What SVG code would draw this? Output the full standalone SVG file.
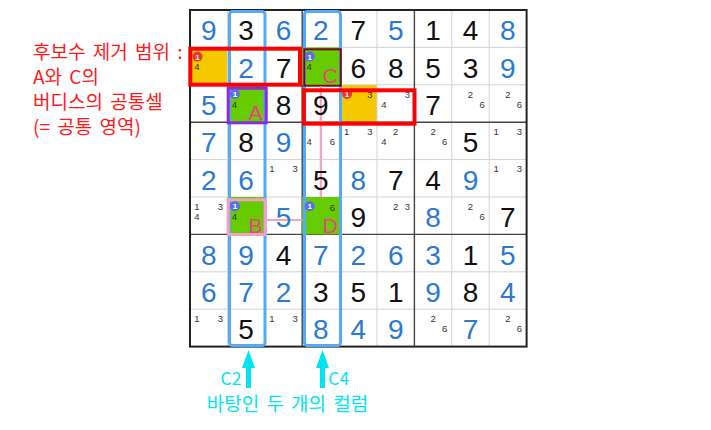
<svg xmlns="http://www.w3.org/2000/svg" width="711" height="430" viewBox="0 0 711 430">
<style>
.d{font-family:"Liberation Sans",Arial,sans-serif;font-size:28px;text-anchor:middle}
.b{fill:#2a7ad2}
.k{fill:#111}
.cd{font-family:"Liberation Sans",Arial,sans-serif;font-size:9.5px;fill:#333;text-anchor:middle}
.bt{font-family:"Liberation Sans",Arial,sans-serif;font-size:8px;font-weight:bold;fill:#fff;text-anchor:middle}
.lbl{font-family:"Liberation Sans",Arial,sans-serif;font-size:21px;fill:#ee3d8f;text-anchor:middle}
.kr{font-family:"Noto Sans CJK KR","Noto Sans",sans-serif;font-size:19px;word-spacing:3px}
.cl{font-family:"Noto Sans CJK KR","Noto Sans",sans-serif;font-size:17.5px}
.red{fill:#ff1a1a}
.cy{fill:#00e5f0}
.thin{stroke:#d2d2d2;stroke-width:1}
.box{stroke:#444;stroke-width:1.4}
.col{fill:none;stroke:#55a9f7;stroke-width:3}
.rr{fill:none;stroke:#ff0000;stroke-width:4}
.link{stroke:#f4a0c6;stroke-width:2.2;fill:none}
.yel{fill:#f6c800}
.grn{fill:#66cc00}
.rb{fill:#e53935}
.bb{fill:#5a6ee6}
</style>
<rect width="711" height="430" fill="#fff"/>
<g id="grid">
<rect x="190" y="47.4" width="37.4" height="37.4" class="yel"/>
<rect x="339.6" y="84.8" width="37.4" height="37.4" class="yel"/>
<g class="thin">
<line x1="227.4" y1="10" x2="227.4" y2="346.6"/>
<line x1="264.8" y1="10" x2="264.8" y2="346.6"/>
<line x1="339.6" y1="10" x2="339.6" y2="346.6"/>
<line x1="377" y1="10" x2="377" y2="346.6"/>
<line x1="451.8" y1="10" x2="451.8" y2="346.6"/>
<line x1="489.2" y1="10" x2="489.2" y2="346.6"/>
<line x1="190" y1="47.4" x2="526.6" y2="47.4"/>
<line x1="190" y1="84.8" x2="526.6" y2="84.8"/>
<line x1="190" y1="159.6" x2="526.6" y2="159.6"/>
<line x1="190" y1="197" x2="526.6" y2="197"/>
<line x1="190" y1="271.8" x2="526.6" y2="271.8"/>
<line x1="190" y1="309.2" x2="526.6" y2="309.2"/>
</g>
<g class="box">
<line x1="302.2" y1="10" x2="302.2" y2="346.6"/>
<line x1="414.4" y1="10" x2="414.4" y2="346.6"/>
<line x1="190" y1="122.2" x2="526.6" y2="122.2"/>
<line x1="190" y1="234.4" x2="526.6" y2="234.4"/>
</g>
<rect x="190" y="10" width="336.6" height="336.6" fill="none" stroke="#222" stroke-width="2"/>
</g>
<g id="cell-A"><rect x="227.4" y="84.8" width="37.4" height="37.4" class="grn"/></g>
<g id="cell-B"><rect x="227.4" y="197" width="37.4" height="37.4" class="grn"/></g>
<g id="cell-C"><rect x="302.2" y="47.4" width="37.4" height="37.4" class="grn"/></g>
<g id="cell-D"><rect x="302.2" y="197" width="37.4" height="37.4" class="grn"/></g>
<g id="column-C2"><rect x="229.5" y="11.5" width="35.5" height="334" rx="3" class="col"/></g>
<g id="column-C4"><rect x="304.5" y="11.5" width="36" height="334" rx="3" class="col"/></g>
<g id="cell-borders">
<rect x="228.2" y="88.2" width="38" height="34.6" fill="none" stroke="#8a2be2" stroke-width="3"/>
<rect x="228.2" y="199.8" width="37" height="34.7" fill="none" stroke="#f4a0c6" stroke-width="3"/>
<rect x="304.3" y="49.3" width="36.4" height="36.4" fill="none" stroke="#7a0a0a" stroke-width="2"/>
</g>
<g id="connectors">
<line x1="320.8" y1="86.5" x2="320.8" y2="197" class="link"/>
<line x1="266.7" y1="220" x2="302.5" y2="220" class="link"/>
<path d="M248.5,350 L255,368 L251,368 L251,388 L246,388 L246,368 L242,368 Z" class="cy"/>
<path d="M322.5,350 L329,368 L325,368 L325,388 L320,388 L320,368 L316,368 Z" class="cy"/>
</g>
<g id="digits" class="d">
<text x="208.7" y="40.2" class="b">9</text><text x="246.1" y="40.2" class="k">3</text><text x="283.5" y="40.2" class="b">6</text><text x="320.9" y="40.2" class="b">2</text><text x="358.3" y="40.2" class="k">7</text><text x="395.7" y="40.2" class="b">5</text><text x="433.1" y="40.2" class="k">1</text><text x="470.5" y="40.2" class="k">4</text><text x="507.9" y="40.2" class="b">8</text>
<text x="246.1" y="77.6" class="b">2</text><text x="283.5" y="77.6" class="k">7</text><text x="358.3" y="77.6" class="k">6</text><text x="395.7" y="77.6" class="k">8</text><text x="433.1" y="77.6" class="k">5</text><text x="470.5" y="77.6" class="k">3</text><text x="507.9" y="77.6" class="b">9</text>
<text x="208.7" y="115" class="b">5</text><text x="283.5" y="115" class="k">8</text><text x="320.9" y="115" class="k">9</text><text x="433.1" y="115" class="k">7</text>
<text x="208.7" y="152.4" class="b">7</text><text x="246.1" y="152.4" class="k">8</text><text x="283.5" y="152.4" class="b">9</text><text x="470.5" y="152.4" class="k">5</text>
<text x="208.7" y="189.8" class="b">2</text><text x="246.1" y="189.8" class="b">6</text><text x="320.9" y="189.8" class="k">5</text><text x="358.3" y="189.8" class="b">8</text><text x="395.7" y="189.8" class="k">7</text><text x="433.1" y="189.8" class="k">4</text><text x="470.5" y="189.8" class="b">9</text>
<text x="283.5" y="227.2" class="b">5</text><text x="358.3" y="227.2" class="k">9</text><text x="433.1" y="227.2" class="b">8</text><text x="507.9" y="227.2" class="k">7</text>
<text x="208.7" y="264.6" class="b">8</text><text x="246.1" y="264.6" class="b">9</text><text x="283.5" y="264.6" class="k">4</text><text x="320.9" y="264.6" class="b">7</text><text x="358.3" y="264.6" class="b">2</text><text x="395.7" y="264.6" class="b">6</text><text x="433.1" y="264.6" class="b">3</text><text x="470.5" y="264.6" class="k">1</text><text x="507.9" y="264.6" class="b">5</text>
<text x="208.7" y="302" class="b">6</text><text x="246.1" y="302" class="b">7</text><text x="283.5" y="302" class="b">2</text><text x="320.9" y="302" class="k">3</text><text x="358.3" y="302" class="k">5</text><text x="395.7" y="302" class="k">1</text><text x="433.1" y="302" class="b">9</text><text x="470.5" y="302" class="k">8</text><text x="507.9" y="302" class="b">4</text>
<text x="246.1" y="339.4" class="k">5</text><text x="320.9" y="339.4" class="b">8</text><text x="358.3" y="339.4" class="b">4</text><text x="395.7" y="339.4" class="b">9</text><text x="470.5" y="339.4" class="b">7</text>
</g>
<g id="candidates" class="cd">
<text x="197" y="70.4">4</text>
<text x="309.2" y="70.4">4</text>
<text x="234.4" y="107.8">4</text>
<text x="369.9" y="97.5">3</text>
<text x="407.3" y="97.5">3</text><text x="384" y="107.8">4</text>
<text x="470.5" y="97.5">2</text><text x="482.1" y="107.8">6</text>
<text x="507.9" y="97.5">2</text><text x="519.5" y="107.8">6</text>
<text x="309.2" y="145.2">4</text><text x="332.5" y="145.2">6</text>
<text x="346.6" y="134.9">1</text><text x="369.9" y="134.9">3</text>
<text x="395.7" y="134.9">2</text><text x="384" y="145.2">4</text>
<text x="433.1" y="134.9">2</text><text x="444.7" y="145.2">6</text>
<text x="496.2" y="134.9">1</text><text x="519.5" y="134.9">3</text>
<text x="271.8" y="172.3">1</text><text x="295.1" y="172.3">3</text>
<text x="496.2" y="172.3">1</text><text x="519.5" y="172.3">3</text>
<text x="197" y="209.7">1</text><text x="220.3" y="209.7">3</text><text x="197" y="220">4</text>
<text x="234.4" y="220">4</text>
<text x="332.5" y="210.5">6</text>
<text x="395.7" y="209.7">2</text><text x="407.3" y="209.7">3</text>
<text x="470.5" y="209.7">2</text><text x="482.1" y="220">6</text>
<text x="197" y="321.9">1</text><text x="220.3" y="321.9">3</text>
<text x="271.8" y="321.9">1</text><text x="295.1" y="321.9">3</text>
<text x="433.1" y="321.9">2</text><text x="444.7" y="332.2">6</text>
<text x="507.9" y="321.9">2</text><text x="519.5" y="332.2">6</text>
</g>
<g id="badges">
<circle cx="197.5" cy="56.6" r="5" class="rb"/><text x="197.5" y="59.5" class="bt">1</text>
<circle cx="309.7" cy="56.6" r="5" class="bb"/><text x="309.7" y="59.5" class="bt">1</text>
<circle cx="234.9" cy="94" r="5" class="bb"/><text x="234.9" y="96.9" class="bt">1</text>
<circle cx="347.1" cy="94" r="5" class="rb"/><text x="347.1" y="96.9" class="bt">1</text>
<circle cx="234.9" cy="206.2" r="5" class="bb"/><text x="234.9" y="209.1" class="bt">1</text>
<circle cx="309.7" cy="206.2" r="5" class="bb"/><text x="309.7" y="209.1" class="bt">1</text>
</g>
<g id="cell-labels" class="lbl">
<text x="330.2" y="82.9">C</text>
<text x="255.4" y="120.3">A</text>
<text x="255.4" y="232.5">B</text>
<text x="330.2" y="232.5">D</text>
</g>
<g id="regions">
<rect x="190.3" y="48.7" width="109.7" height="36" class="rr"/>
<rect x="303.8" y="90.3" width="110.7" height="33.4" class="rr"/>
</g>
<g id="notes">
<text class="kr red" x="33" y="59">후보수 제거 범위 :</text>
<text class="kr red" x="33" y="84">A와 C의</text>
<text class="kr red" x="33" y="109">버디스의 공통셀</text>
<text class="kr red" x="33" y="134">(= 공통 영역)</text>
<text class="cl cy" x="241.5" y="384.5" text-anchor="end">C2</text>
<text class="cl cy" x="328.3" y="384.5">C4</text>
<text class="kr cy" x="287.5" y="411" text-anchor="middle">바탕인 두 개의 컬럼</text>
</g>
</svg>
